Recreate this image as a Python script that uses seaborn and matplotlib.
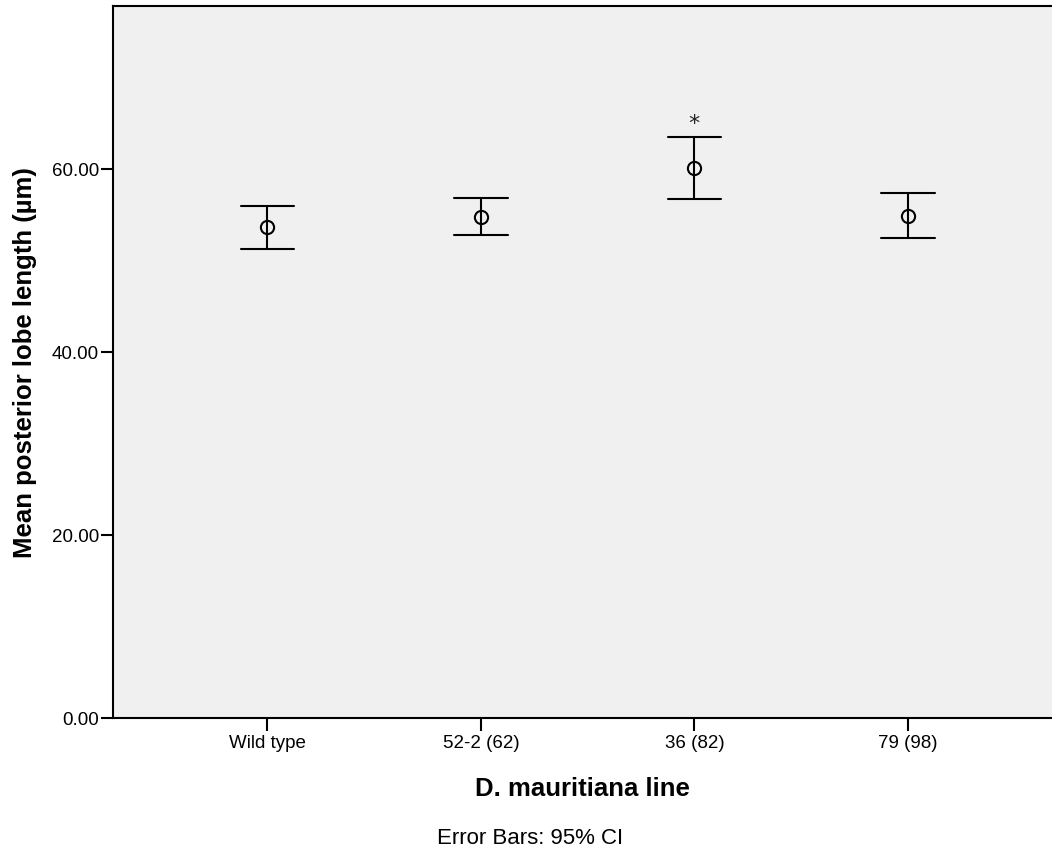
import numpy as np
import pandas as pd
import matplotlib
matplotlib.use('Agg')
import matplotlib.pyplot as plt
import seaborn as sns

# group means and 95% CI
lines = ['Wild type', '52-2 (62)', '36 (82)', '79 (98)']
means = [53.62, 54.78, 60.05, 54.89]
ci_low = [51.25, 52.78, 56.72, 52.42]
ci_high = [55.92, 56.83, 63.47, 57.38]
signif = ['', '', '*', '']

# long table: each group gets low / mean / high, the median is the mean
rows = []
for name, lo, m, hi in zip(lines, ci_low, means, ci_high):
    for v in (lo, m, hi):
        rows.append({'line': name, 'length': v})
df = pd.DataFrame(rows)

sns.set_style('white')
plt.rcParams['font.family'] = ['Liberation Sans', 'DejaVu Sans']
plt.rcParams['text.color'] = 'black'
plt.rcParams['axes.labelcolor'] = 'black'
plt.rcParams['xtick.color'] = 'black'
plt.rcParams['ytick.color'] = 'black'

fig = plt.figure(figsize=(10.52, 8.53), dpi=100)
ax = fig.add_axes([0.1074, 0.1574, 0.8926, 0.8343])
ax.set_facecolor('#f0f0f0')

sns.pointplot(data=df, x='line', y='length', order=lines,
              estimator='median', errorbar=lambda v: (v.min(), v.max()),
              color='black', linestyle='none', marker='o', markersize=9.5,
              markerfacecolor='none', markeredgewidth=1.5,
              capsize=0.25, err_kws={'linewidth': 1.5}, ax=ax)

for i, s in enumerate(signif):
    if s:
        ax.text(i, ci_high[i] + 1.6, s, ha='center', va='center', fontsize=16,
                family='DejaVu Sans', color='#222222')

ax.set_xlim(-0.723, 3.675)
ax.set_ylim(0, 77.8)
ax.set_yticks([0, 20, 40, 60])
ax.set_yticklabels(['%.2f' % t for t in [0, 20, 40, 60]])
ax.tick_params(axis='both', direction='out', length=9, width=1.5, labelsize=13.5,
               color='black', labelcolor='black', left=True, bottom=True)
ax.tick_params(axis='y', pad=1)
ax.tick_params(axis='x', pad=3)

for side in ['left', 'bottom', 'top']:
    ax.spines[side].set_visible(True)
    ax.spines[side].set_linewidth(1.5)
    ax.spines[side].set_color('black')
ax.spines['right'].set_visible(False)

ax.set_xlabel('D. mauritiana line', fontsize=18.5, fontweight='bold', labelpad=18)
ax.set_ylabel('Mean posterior lobe length (µm)', fontsize=18.5, fontweight='bold',
              labelpad=11)

fig.text(530 / 1052, 1 - 839 / 853, 'Error Bars: 95% CI', ha='center',
         va='center', fontsize=16)

fig.savefig('out.png', dpi=100)
